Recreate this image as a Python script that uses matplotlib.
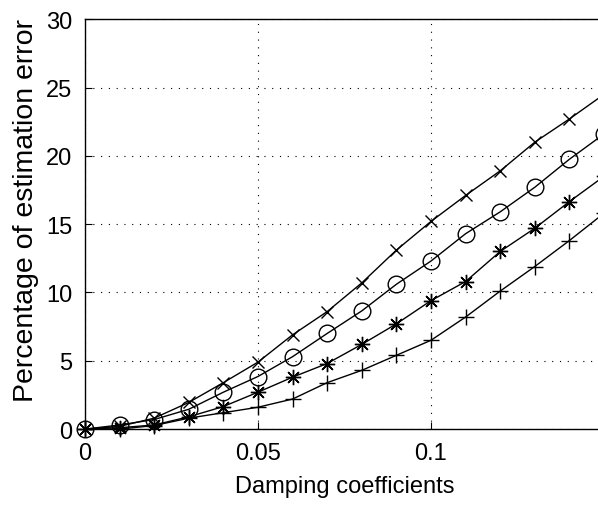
import numpy as np
import matplotlib
matplotlib.use('Agg')
import matplotlib.pyplot as plt

plt.rcParams['font.family'] = ['Liberation Sans', 'DejaVu Sans']

damping = [0, 0.01, 0.02, 0.03, 0.04, 0.05, 0.06, 0.07, 0.08, 0.09, 0.10, 0.11, 0.12, 0.13, 0.14, 0.15]
err_x = [0, 0.2, 0.8, 1.95, 3.4, 4.9, 6.9, 8.6, 10.7, 13.1, 15.2, 17.1, 18.9, 21.0, 22.7, 24.5]
err_o = [0, 0.3, 0.7, 1.45, 2.7, 3.85, 5.3, 7.0, 8.65, 10.6, 12.3, 14.3, 15.9, 17.7, 19.75, 21.6]
err_star = [0, 0.1, 0.3, 0.9, 1.65, 2.7, 3.8, 4.8, 6.2, 7.7, 9.4, 10.8, 13.0, 14.7, 16.65, 18.5]
err_plus = [0, 0.0, 0.26, 0.8, 1.2, 1.6, 2.2, 3.4, 4.3, 5.4, 6.5, 8.2, 10.1, 11.9, 13.8, 15.8]

fig = plt.figure(figsize=(5.98, 5.06), dpi=100)
ax = fig.add_axes([0.142, 0.150, 0.868, 0.810])

ax.plot(damping, err_x, color='black', lw=1, marker='x', ms=9, mew=1, clip_on=False)
ax.plot(damping, err_o, color='black', lw=1, marker='o', ms=12, mfc='none', mew=1, clip_on=False)
ax.plot(damping, err_star, color='black', lw=1, marker=(8, 2, 0), ms=11, mew=1, clip_on=False)
ax.plot(damping, err_plus, color='black', lw=1, marker='+', ms=12, mew=1, clip_on=False)

ax.set_xlim(0, 0.15)
ax.set_ylim(0, 30)
ax.set_xticks([0, 0.05, 0.1])
ax.set_xticklabels(['0', '0.05', '0.1'])
ax.set_yticks([0, 5, 10, 15, 20, 25, 30])
ax.tick_params(direction='in', labelsize=17, length=5, pad=9)
ax.grid(True, color='black', linestyle=(0, (1, 6)), linewidth=0.8)
for s in ax.spines.values():
    s.set_linewidth(1)
ax.set_xlabel('Damping coefficients', fontsize=17, labelpad=8)
ax.set_ylabel('Percentage of estimation error', fontsize=20.5)
ax.yaxis.set_label_coords(-0.088, 0.535)

fig.savefig('out.png', dpi=100)
